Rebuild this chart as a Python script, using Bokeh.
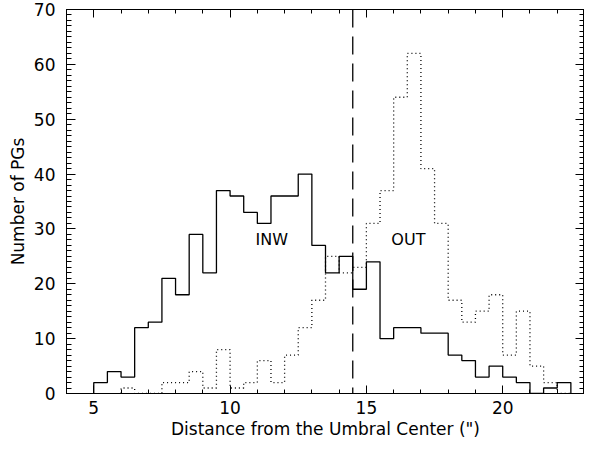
import numpy as np
from bokeh.plotting import figure
from bokeh.models import (LinearAxis, SingleIntervalTicker, Span, Range1d, Label,
                          CustomJSTickFormatter)
from bokeh.embed import file_html
from bokeh.resources import INLINE

# ---- data ----
bin_width = 0.5
inw_first_edge = 5.0
inw_counts = [2, 4, 3, 12, 13, 21, 18, 29, 22, 37,
              36, 33, 31, 36, 36, 40, 27, 22, 25, 19,
              24, 10, 12, 12, 11, 11, 7, 6, 3, 5,
              3, 2, 0, 1, 2]
out_first_edge = 6.0
out_counts = [1, 0, 0, 2, 2, 4, 1, 8, 1, 2,
              6, 2, 7, 12, 17, 25, 22, 23, 31, 37,
              54, 62, 41, 31, 17, 13, 15, 18, 7, 15,
              5, 2, 0]
divider_x = 14.5
x_ticks_major = 5
y_ticks_major = 10
FONT = "DejaVu Sans"


def step_xy(first_edge, counts):
    edges = first_edge + bin_width * np.arange(len(counts) + 1)
    xs = np.concatenate([[edges[0]], edges])
    ys = np.concatenate([[0], counts, [0]])
    return xs, ys


p = figure(width=584, height=441,
           x_range=Range1d(4, 23), y_range=Range1d(0, 70),
           output_backend="svg", toolbar_location=None,
           min_border_left=66, min_border_top=9,
           min_border_right=0, min_border_bottom=0)
p.grid.visible = False
p.outline_line_color = "black"
p.outline_line_width = 1
p.background_fill_color = "white"
p.border_fill_color = "white"

xs, ys = step_xy(inw_first_edge, inw_counts)
p.step(xs, ys, mode="after", line_color="black", line_width=1.3)
xs, ys = step_xy(out_first_edge, out_counts)
p.step(xs, ys, mode="after", line_color="black", line_width=1.3, line_dash="1 3")

p.add_layout(Span(location=divider_x, dimension="height", line_color="black",
                  line_width=1.3, line_dash="18 9"))

p.add_layout(Label(x=11.53, y=28, text="INW", text_align="center", text_baseline="middle",
                   text_font=FONT, text_font_size="16px", text_color="black"))
p.add_layout(Label(x=16.54, y=28, text="OUT", text_align="center", text_baseline="middle",
                   text_font=FONT, text_font_size="16px", text_color="black"))


def style_axis(ax, ticker, major_in, minor_in, show_labels):
    ax.ticker = ticker
    ax.axis_line_color = "black"
    ax.major_tick_in = major_in
    ax.major_tick_out = 0
    ax.minor_tick_in = minor_in
    ax.minor_tick_out = 0
    ax.major_tick_line_color = "black"
    ax.minor_tick_line_color = "black"
    if show_labels:
        ax.major_label_text_font = FONT
        ax.major_label_text_font_size = "17px"
        ax.major_label_text_color = "black"
        ax.major_label_text_line_height = 1.0
        ax.axis_label_text_font = FONT
        ax.axis_label_text_font_size = "17px"
        ax.axis_label_text_font_style = "normal"
        ax.axis_label_text_color = "black"
        ax.axis_label_text_line_height = 1.0
    else:
        ax.formatter = CustomJSTickFormatter(code="return ''")
        ax.major_label_text_font_size = "1px"
        ax.major_label_standoff = 0
        ax.axis_label = None
        ax.axis_label_standoff = 0


xt = lambda: SingleIntervalTicker(interval=x_ticks_major, num_minor_ticks=5)
yt = lambda: SingleIntervalTicker(interval=y_ticks_major, num_minor_ticks=10)

bx = p.xaxis[0]
style_axis(bx, xt(), 8, 4, True)
bx.axis_label = "Distance from the Umbral Center (\")"
bx.major_label_standoff = 7
bx.axis_label_standoff = 2

ly = p.yaxis[0]
style_axis(ly, yt(), 9, 5, True)
ly.axis_label = "Number of PGs"
ly.major_label_standoff = 11
ly.axis_label_standoff = 3

top = LinearAxis()
style_axis(top, xt(), 8, 4, False)
p.add_layout(top, "above")
right = LinearAxis()
style_axis(right, yt(), 9, 5, False)
p.add_layout(right, "right")

open("out.html", "w").write(file_html(p, INLINE))
